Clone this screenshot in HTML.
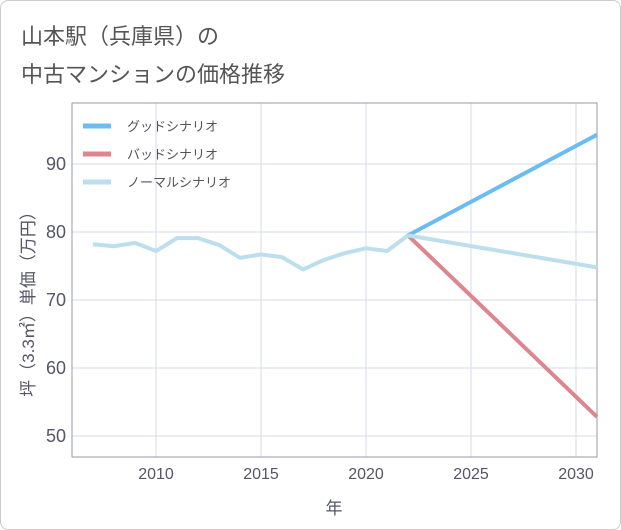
<!DOCTYPE html>
<html><head><meta charset="utf-8"><style>
body{margin:0;background:#fff;}
#wrap{position:relative;width:619px;height:528px;border:1px solid #ccc;border-radius:8px;overflow:hidden;font-family:"Liberation Sans","Noto Sans CJK JP",sans-serif;}
.title{position:absolute;left:20px;font-size:22px;color:#555;}
</style></head><body>
<div id="wrap">
<div class="title" style="top:18px">山本駅（兵庫県）の</div>
<div class="title" style="top:56px">中古マンションの価格推移</div>
<svg id="chart" width="621" height="530" style="position:absolute;left:-1px;top:-1px"></svg>
</div>
<script>
const years=[2007,2008,2009,2010,2011,2012,2013,2014,2015,2016,2017,2018,2019,2020,2021,2022];
const normalHist=[78.2,77.9,78.4,77.2,79.1,79.1,78.1,76.2,76.7,76.3,74.5,75.9,76.9,77.6,77.2,79.5];
const projYears=[2022,2031];
const goodProj=[79.5,94.3];
const badProj=[79.5,52.8];
const normalProj=[79.5,74.8];
const xTicks=[2010,2015,2020,2025,2030];
const yTicks=[50,60,70,80,90];
const L=72,R=597,T=103,B=457;
const x=v=>L+(v-2006)*(R-L)/25;
const y=v=>232-(v-80)*6.8;
const NS="http://www.w3.org/2000/svg";
const svg=document.getElementById('chart');
function mk(tag,attrs){const e=document.createElementNS(NS,tag);for(const k in attrs)e.setAttribute(k,attrs[k]);svg.appendChild(e);return e;}
xTicks.forEach(t=>{
 const l=mk('line',{x1:x(t),x2:x(t),y1:T,y2:B,stroke:'#d5dee8','stroke-width':1});
 
 
 const tx=mk('text',{x:x(t),y:B+22,'text-anchor':'middle','font-size':16,fill:'#556'});
 tx.textContent=t;
 
 
});
yTicks.forEach(t=>{
 const l=mk('line',{x1:L,x2:R,y1:y(t),y2:y(t),stroke:'#d5dee8','stroke-width':1});
 
 
 const tx=mk('text',{x:L-6,y:y(t)+6,'text-anchor':'end','font-size':18,fill:'#556'});
 tx.textContent=t;
 
 
});
const fr=mk('rect',{x:L,y:T,width:R-L,height:B-T,fill:'none',stroke:'#99a','stroke-width':1});


function line(xs,vs,color,name){
 const p=mk('polyline',{points:xs.map((v,i)=>x(v)+','+y(vs[i])).join(' '),fill:'none',stroke:color,'stroke-width':4,'stroke-linejoin':'round'});
 
 
}
line(projYears,goodProj,'#6bbcf2','good-scenario-line');
line(projYears,badProj,'#dc8690','bad-scenario-line');
line(projYears,normalProj,'#bcdeed','normal-scenario-line');
line(years,normalHist,'#bcdeed','historical-line');
const leg=[['グッドシナリオ','#6bbcf2'],['バッドシナリオ','#dc8690'],['ノーマルシナリオ','#bcdeed']];
leg.forEach((d,i)=>{
 const yy=126+i*28;
 const s=mk('line',{x1:83,x2:111,y1:yy,y2:yy,stroke:d[1],'stroke-width':5});
 
 
 const t=mk('text',{x:127,y:yy+5,'font-size':13,fill:'#555'});
 t.textContent=d[0];
 
 
});
const xt=mk('text',{x:334,y:514,'text-anchor':'middle','font-size':17,fill:'#556'});
xt.textContent='年';


const yt=mk('text',{x:0,y:0,'text-anchor':'middle','font-size':17,fill:'#556',transform:'translate(34,300) rotate(-90)'});
yt.textContent='坪（3.3㎡）単価（万円）';


</script>
</body></html>
